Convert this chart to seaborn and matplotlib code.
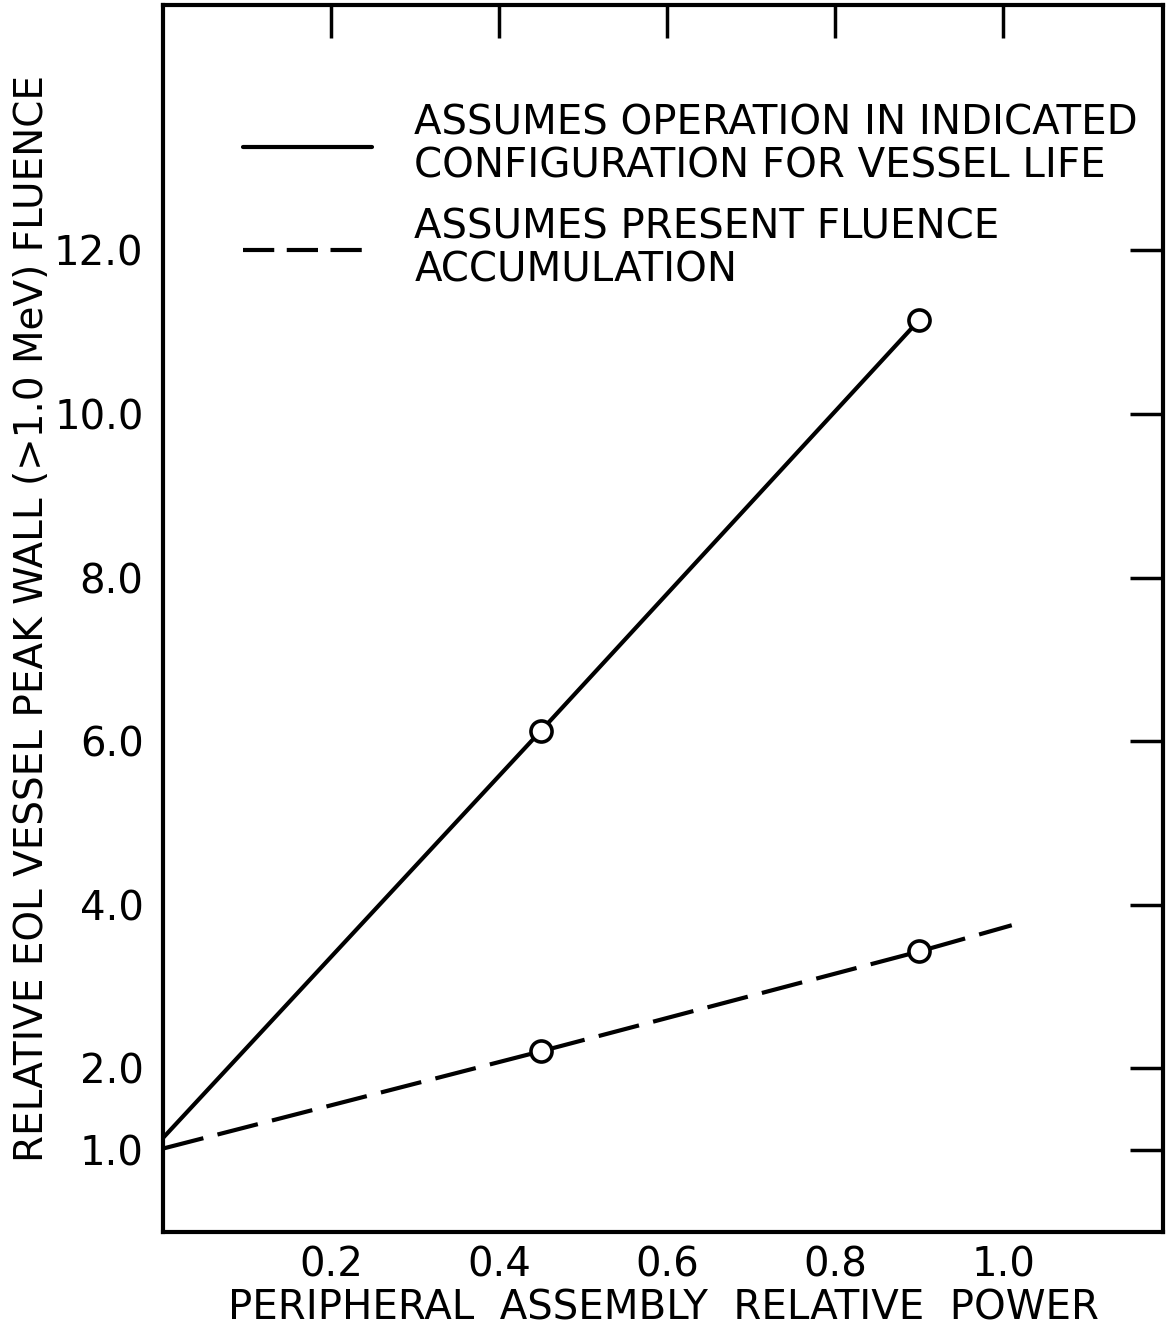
import matplotlib
matplotlib.use("Agg")
import matplotlib.pyplot as plt
import seaborn as sns
import pandas as pd
from matplotlib.lines import Line2D

# Data
power_vessel_life = [0.0, 0.45, 0.90]
fluence_vessel_life = [1.15, 6.13, 11.15]
power_present = [0.0, 0.45, 0.90, 1.01]
fluence_present = [1.02, 2.21, 3.43, 3.75]
marker_power_life = [0.45, 0.90]
marker_fluence_life = [6.13, 11.15]
marker_power_present = [0.45, 0.90]
marker_fluence_present = [2.21, 3.43]

label_life = "ASSUMES OPERATION IN INDICATED\nCONFIGURATION FOR VESSEL LIFE"
label_present = "ASSUMES PRESENT FLUENCE\nACCUMULATION"
x_ticks = [0.2, 0.4, 0.6, 0.8, 1.0]
x_tick_labels = ["0.2", "0.4", "0.6", "0.8", "1.0"]
y_ticks = [1.0, 2.0, 4.0, 6.0, 8.0, 10.0, 12.0]
y_tick_labels = ["1.0", "2.0", "4.0", "6.0", "8.0", "10.0", "12.0"]
x_label = "PERIPHERAL  ASSEMBLY  RELATIVE  POWER"
y_label = "RELATIVE EOL VESSEL PEAK WALL (>1.0 MeV) FLUENCE"

sns.set_theme(style="white")
plt.rcParams['font.family'] = ['DejaVu Sans']
plt.rcParams['text.color'] = 'black'
plt.rcParams['axes.labelcolor'] = 'black'

df = pd.concat([
    pd.DataFrame({"power": power_vessel_life, "fluence": fluence_vessel_life, "case": "life"}),
    pd.DataFrame({"power": power_present, "fluence": fluence_present, "case": "present"}),
], ignore_index=True)

fig = plt.figure(figsize=(11.68, 13.33), dpi=100)
ax = fig.add_axes([163/1168, 1 - 1232/1333, (1163-163)/1168, (1232-5)/1333])

sns.lineplot(data=df, x="power", y="fluence", style="case", sort=False,
             dashes={"life": "", "present": (10.0, 3.5)},
             color="black", linewidth=3.0, legend=False, ax=ax, estimator=None)

mk = pd.DataFrame({"power": marker_power_life + marker_power_present,
                   "fluence": marker_fluence_life + marker_fluence_present})
sns.scatterplot(data=mk, x="power", y="fluence", marker="o", s=230,
                facecolor="white", edgecolor="black", linewidth=2.6, ax=ax, zorder=5)

ax.set_xlim(0, 1.19)
ax.set_ylim(0, 15.0)
ax.set_xticks(x_ticks)
ax.set_xticklabels(x_tick_labels)
ax.set_yticks(y_ticks)
ax.set_yticklabels(y_tick_labels)
ax.tick_params(axis="both", direction="in", length=24, width=2.5, colors="black",
               labelsize=29, top=True, right=True, pad=14)
ax.tick_params(axis="x", pad=10)
for s in ax.spines.values():
    s.set_visible(True)
    s.set_color("black")
    s.set_linewidth(3)

ax.set_xlabel(x_label, fontsize=29, labelpad=2, color="black")
ax.set_ylabel(y_label, fontsize=28, labelpad=2, color="black")

handles = [Line2D([], [], color="black", lw=3, linestyle="-"),
           Line2D([], [], color="black", lw=3, linestyle=(0, (7.5, 3.0)))]
leg = ax.legend(handles, [label_life, label_present], loc="upper left",
                bbox_to_anchor=(0.044, 0.949), frameon=False, fontsize=29,
                handlelength=3.2, handletextpad=1.05, labelspacing=0.5)
for t in leg.get_texts():
    t.set_linespacing(1.1)
    t.set_color("black")

fig.savefig("out.png", dpi=100)
